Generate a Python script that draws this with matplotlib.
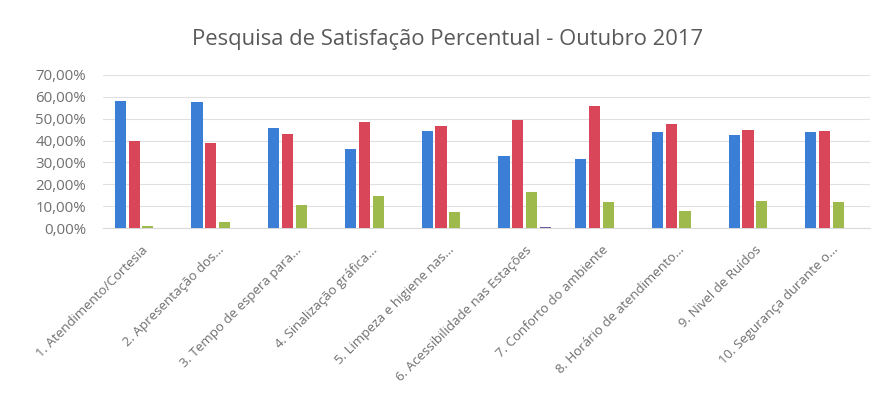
import matplotlib.pyplot as plt
import numpy as np
from matplotlib.ticker import FuncFormatter

plt.rcParams["font.family"] = ["Open Sans", "DejaVu Sans"]

# categorias (rótulos truncados como no gráfico original)
categorias = ['1. Atendimento/Cortesia', '2. Apresentação dos...', '3. Tempo de espera para...',
              '4. Sinalização gráfica...', '5. Limpeza e higiene nas...', '6. Acessibilidade nas Estações',
              '7. Conforto do ambiente', '8. Horário de atendimento...', '9. Nivel de Ruídos',
              '10. Segurança durante o...']

# valores percentuais
serie_azul = [58.3, 57.5, 45.7, 36.0, 44.5, 32.8, 31.4, 44.0, 42.7, 43.8]
serie_vermelha = [39.8, 38.9, 43.1, 48.3, 46.8, 49.3, 55.8, 47.7, 44.7, 44.2]
serie_verde = [1.0, 2.8, 10.3, 14.7, 7.5, 16.4, 12.1, 7.7, 12.2, 11.8]
serie_roxa = [0, 0, 0, 0.2, 0.2, 0.6, 0, 0, 0, 0]

cores = ['#3A7FD5', '#D9465A', '#9FBA4C', '#6E5A9E']

fig = plt.figure(figsize=(8.77, 4.0), dpi=100)
ax = fig.add_axes([0.117, 0.43, 0.875, 0.3825])

x = np.arange(len(categorias))
passo = 0.18
largura = 0.145
for i, (valores, cor) in enumerate(zip([serie_azul, serie_vermelha, serie_verde, serie_roxa], cores)):
    ax.bar(x + (i - 1.5) * passo, valores, width=largura, color=cor, zorder=3)

ax.set_xlim(-0.5, len(categorias) - 0.5)
ax.set_ylim(0, 70)
ax.set_yticks(np.arange(0, 71, 10))
ax.yaxis.set_major_formatter(FuncFormatter(lambda v, p: f'{v:.2f}%'.replace('.', ',')))
ax.grid(axis='y', color='#e0e0e0', linewidth=0.8, zorder=0)

for s in ['top', 'right', 'left']:
    ax.spines[s].set_visible(False)
ax.spines['bottom'].set_color('#d9d9d9')

ax.set_xticks(x)
ax.set_xticklabels(categorias, rotation=45, ha='right', rotation_mode='anchor')
ax.tick_params(axis='both', length=0, colors='#6f6f6f')
ax.tick_params(axis='x', pad=11, labelsize=9.5)
ax.tick_params(axis='y', pad=12, labelsize=10.8)

fig.text(0.51, 0.9, 'Pesquisa de Satisfação Percentual - Outubro 2017',
         ha='center', va='center', fontsize=15.8, color='#595959')

fig.savefig('out.png', dpi=100)
